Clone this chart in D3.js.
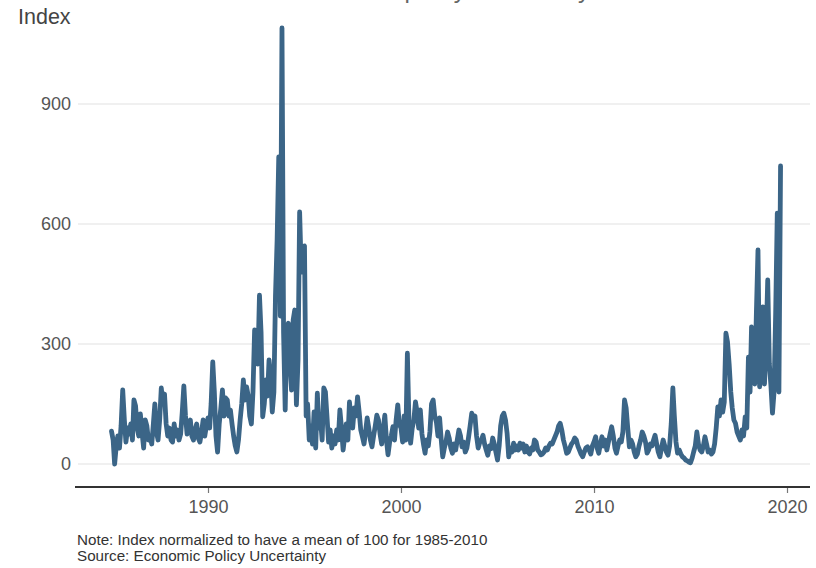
<!DOCTYPE html>
<html>
<head>
<meta charset="utf-8">
<script src="https://cdn.jsdelivr.net/npm/d3@7"></script>
<style>
  body { margin: 0; background: #fff; }
  svg text { font-family: "Liberation Sans", Arial, sans-serif; }
</style>
</head>
<body>
<svg id="chart" width="816" height="568"></svg>
<script>
// monthly trade policy uncertainty index
var startYear = 1985;
var tpu1985_89 = [
  82, 60, 0, 45, 70, 40, 95, 185, 110, 55, 90, 75,
  100, 60, 160, 145, 90, 70, 125, 80, 40, 110, 95, 60,
  70, 50, 95, 150, 80, 60, 110, 190, 150, 175, 100, 70,
  90, 60, 55, 100, 70, 85, 60, 75, 130, 195, 120, 75,
  90, 110, 70, 60, 85, 100, 65, 55, 80, 110, 70, 95
];
var tpu1990_94 = [
  115, 90, 150, 255, 180, 70, 30, 100, 140, 185, 120, 165,
  160, 120, 135, 100, 70, 45, 30, 60, 110, 150, 210, 160,
  193, 170, 120, 100, 180, 335, 300, 250, 422, 330, 118, 150,
  210, 170, 260, 220, 130, 180, 420, 560, 768, 370, 1090, 330,
  135, 340, 352, 250, 185, 360, 385, 148, 260, 630, 480, 543
];
var tpu1995_99 = [
  545, 120, 150, 60, 95, 50, 130, 40, 177, 90, 110, 60,
  190, 180, 120, 55, 85, 40, 70, 50, 85, 60, 135, 90,
  35, 70, 100, 60, 155, 110, 90, 140, 120, 168, 130, 85,
  68, 50, 80, 115, 90, 60, 43, 70, 95, 122, 110, 75,
  50, 90, 122, 60, 23, 55, 70, 93, 60, 110, 148, 100
];
var tpu2000_04 = [
  90, 55, 120, 60, 277, 100, 52, 90, 110, 155, 130, 90,
  135, 75, 50, 27, 60, 45, 80, 150, 160, 120, 105, 70,
  115, 60, 18, 40, 55, 80, 65, 40, 27, 50, 35, 60,
  85, 70, 43, 55, 30, 40, 65, 95, 127, 115, 120, 70,
  40, 55, 60, 72, 50, 35, 22, 45, 38, 65, 50, 30
];
var tpu2005_09 = [
  10, 45, 95, 120, 127, 110, 77, 18, 40, 30, 52, 35,
  45, 35, 52, 40, 50, 30, 45, 30, 25, 40, 35, 60,
  55, 35, 30, 23, 25, 30, 40, 35, 45, 52, 50, 60,
  70, 80, 95, 102, 85, 60, 45, 27, 30, 40, 50, 55,
  65, 60, 45, 35, 25, 18, 30, 40, 43, 35, 25, 45
];
var tpu2010_14 = [
  55, 68, 40, 27, 50, 68, 45, 60, 35, 55, 75, 93,
  70, 40, 27, 45, 60, 55, 80, 160, 140, 90, 43, 60,
  50, 30, 18, 25, 45, 60, 80, 70, 55, 27, 35, 50,
  45, 60, 72, 50, 30, 18, 40, 60, 45, 30, 22, 45,
  100, 190, 120, 55, 27, 35, 25, 18, 15, 10, 8, 5
];
var tpu2015_19 = [
  3, 15, 30, 45, 80, 50, 35, 30, 45, 68, 50, 30,
  35, 25, 30, 50, 90, 143, 120, 160, 130, 155, 327, 305,
  250, 180, 140, 110, 102, 80, 70, 60, 85, 70, 118, 90,
  267, 180, 343, 300, 200, 380, 535, 193, 260, 393, 200, 300,
  460, 250, 200, 127, 180, 380, 627, 180, 745
];
var yTicks = [0, 300, 600, 900];
var xTickYears = [1990, 2000, 2010, 2020];
var titleText = "Trade policy uncertainty";
var yLabel = "Index";
var noteText = "Note: Index normalized to have a mean of 100 for 1985-2010";
var sourceText = "Source: Economic Policy Uncertainty";

(function(){
  var values = [].concat(tpu1985_89, tpu1990_94, tpu1995_99, tpu2000_04,
                         tpu2005_09, tpu2010_14, tpu2015_19);
  var data = values.map(function(v, i){
    return { date: new Date(startYear + Math.floor(i / 12), i % 12, 1), value: v };
  });

  var svg = d3.select("#chart");
  var lineColor = "#3b6587";

  var x = d3.scaleTime()
    .domain([new Date(1990, 0, 1), new Date(2020, 0, 1)])
    .range([208, 787]);
  var y = d3.scaleLinear()
    .domain([0, 900])
    .range([464, 104]);

  // title sits mostly above the top edge, like the cropped original
  svg.append("text")
    .attr("x", 336).attr("y", -2)
    .style("font-size", "24px")
    .style("fill", "#666")
    .text(titleText);

  // gridlines
  svg.append("g").selectAll("line")
    .data(yTicks)
    .enter().append("line")
    .attr("x1", 78).attr("x2", 810)
    .attr("y1", function(d){ return y(d); })
    .attr("y2", function(d){ return y(d); })
    .style("stroke", "#ebebeb")
    .style("stroke-width", 1.5);

  // y labels
  svg.append("g").selectAll("text")
    .data(yTicks)
    .enter().append("text")
    .attr("x", 71)
    .attr("y", function(d){ return y(d); })
    .attr("dy", "0.35em")
    .attr("text-anchor", "end")
    .style("font-size", "18px")
    .style("fill", "#555")
    .text(function(d){ return d; });

  svg.append("text")
    .attr("x", 18).attr("y", 24)
    .style("font-size", "21.5px")
    .style("fill", "#444")
    .text(yLabel);

  // x axis
  var xAxis = d3.axisBottom(x)
    .tickValues(xTickYears.map(function(yr){ return new Date(yr, 0, 1); }))
    .tickFormat(d3.timeFormat("%Y"))
    .tickSizeInner(6)
    .tickSizeOuter(0)
    .tickPadding(7);
  var gx = svg.append("g")
    .attr("transform", "translate(0,487)")
    .call(xAxis);
  gx.select(".domain").remove();
  gx.selectAll(".tick line").style("stroke", "#777").style("stroke-width", 1.2);
  gx.selectAll(".tick text")
    .style("font-family", "Liberation Sans, Arial, sans-serif")
    .style("font-size", "18px")
    .style("fill", "#555");

  svg.append("line")
    .attr("x1", 75).attr("x2", 810)
    .attr("y1", 487).attr("y2", 487)
    .style("stroke", "#333")
    .style("stroke-width", 2);

  // the series
  var line = d3.line()
    .x(function(d){ return x(d.date); })
    .y(function(d){ return y(d.value); });
  svg.append("path")
    .datum(data)
    .attr("d", line)
    .style("fill", "none")
    .style("stroke", lineColor)
    .style("stroke-width", 4.8)
    .style("stroke-linejoin", "round")
    .style("stroke-linecap", "round");

  // notes
  svg.append("text")
    .attr("x", 77).attr("y", 545)
    .style("font-size", "15.2px")
    .style("fill", "#333")
    .text(noteText);
  svg.append("text")
    .attr("x", 77).attr("y", 561)
    .style("font-size", "15.2px")
    .style("fill", "#333")
    .text(sourceText);
})();
</script>
</body>
</html>
